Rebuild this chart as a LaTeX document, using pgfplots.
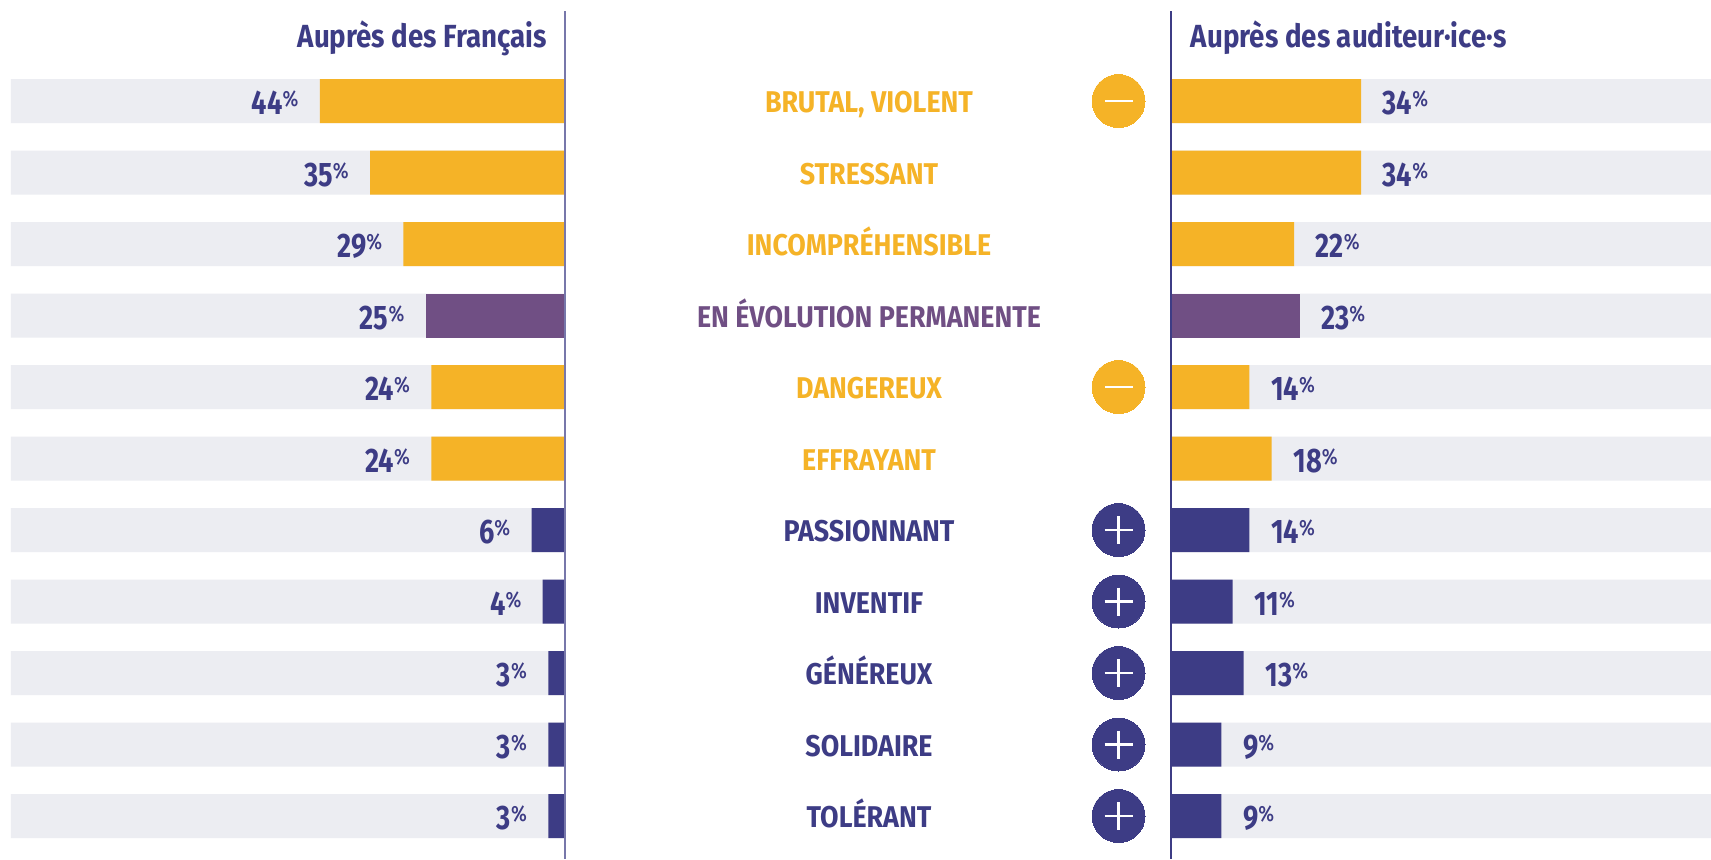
\documentclass[border=0pt]{standalone}
\usepackage{pgfplots}
\pgfplotsset{compat=1.18}
\usepackage{fontspec}
\setmainfont{Fira Sans}[FakeStretch=0.82,UprightFont=* Medium,BoldFont=* Bold]
\newfontfamily\labfont{Fira Sans}[FakeStretch=0.895,UprightFont=* Bold]
\newfontfamily\titfont{Fira Sans}[FakeStretch=0.865,UprightFont=* Bold]
\newfontfamily\numfont{Fira Sans}[FakeStretch=0.8,UprightFont=* Bold]
\newfontfamily\pctfont{Fira Sans}[FakeStretch=0.85,UprightFont=* Medium]
\definecolor{gris}{HTML}{ECEDF2}
\definecolor{jaune}{HTML}{F5B327}
\definecolor{violet}{HTML}{704F84}
\definecolor{bleu}{HTML}{3D3C85}
\newcommand{\pct}{\raisebox{4pt}{\fontsize{11}{11}\pctfont\%}}
\pgfplotsset{
  base/.style={
    hide axis, scale only axis, clip=false,
    y dir=reverse, ymin=-1.4126, ymax=10.6014,
    height=429.5pt,
    anchor=south west,
    /pgf/number format/assume math mode=true,
  },
  barre/.style={xbar, bar width=22pt, bar shift=0pt, draw=none, forget plot},
  val/.style={
    nodes near coords={\pgfmathprintnumber{\pgfplotspointmeta}\pct},
    point meta=x,
    nodes near coords style={text=bleu, font=\fontsize{17}{17}\numfont, inner sep=0pt, text height=11.5pt, text depth=0pt, yshift=-1pt},
  },
  lab/.style={only marks, mark=none, point meta=explicit symbolic,
    nodes near coords,
    nodes near coords align=center,
    nodes near coords style={anchor=center, inner sep=0pt, text=#1, text height=10.3pt, text depth=0pt, yshift=-0.8pt, font=\fontsize{15}{15}\labfont},
  },
}
\begin{document}
\begin{tikzpicture}
\path[use as bounding box, fill=white] (0,0) rectangle (855.5pt,429.5pt);

% left panel
\begin{axis}[base, at={(5.5pt,0pt)}, width=277pt, x dir=reverse, xmin=0, xmax=99.46]
\addplot[barre, fill=gris] coordinates {(99.46,0)(99.46,1)(99.46,2)(99.46,3)(99.46,4)(99.46,5)(99.46,6)(99.46,7)(99.46,8)(99.46,9)(99.46,10)};
\addplot[barre, val, fill=jaune, every node near coord/.append style={anchor=east,xshift=-10.5pt}] coordinates {(44,0)(35,1)(29,2)(24,4)(24,5)};
\addplot[barre, val, fill=violet, every node near coord/.append style={anchor=east,xshift=-10.5pt}] coordinates {(25,3)};
\addplot[barre, val, fill=bleu, every node near coord/.append style={anchor=east,xshift=-10.5pt}] coordinates {(6,6)(4,7)(3,8)(3,9)(3,10)};
\addplot[bleu!70!white, line width=0.75pt, forget plot] coordinates {(0,-1.2587)(0,10.6014)};
\node[anchor=east, inner sep=0pt, text=bleu, text height=11pt, text depth=0pt, font=\fontsize{16}{16}\titfont] at (axis cs:3.2,-0.90) {Auprès des Français};
\end{axis}

% centre labels and icons, x in reference pixels
\begin{axis}[base, at={(0pt,0pt)}, width=855.5pt, xmin=0, xmax=1711]
\addplot[lab=jaune] coordinates {(869,0) [{BRUTAL, VIOLENT}] (869,1) [STRESSANT] (869,2) [INCOMPRÉHENSIBLE] (869,4) [DANGEREUX] (869,5) [EFFRAYANT]};
\addplot[lab=violet] coordinates {(869,3) [EN ÉVOLUTION PERMANENTE]};
\addplot[lab=bleu] coordinates {(869,6) [PASSIONNANT] (869,7) [INVENTIF] (869,8) [GÉNÉREUX] (869,9) [SOLIDAIRE] (869,10) [TOLÉRANT]};
\addplot[only marks, mark=*, mark size=13.25pt, mark options={fill=jaune, draw=jaune, line width=0pt}] coordinates {(1118.5,0)(1118.5,4)};
\addplot[only marks, mark=*, mark size=13.25pt, mark options={fill=bleu, draw=bleu, line width=0pt}] coordinates {(1118.5,6)(1118.5,7)(1118.5,8)(1118.5,9)(1118.5,10)};
\addplot[only marks, mark=-, mark size=7pt, mark options={draw=white, line width=1.1pt}] coordinates {(1118.5,0)(1118.5,4)};
\addplot[only marks, mark=+, mark size=7pt, mark options={draw=white, line width=1.1pt}] coordinates {(1118.5,6)(1118.5,7)(1118.5,8)(1118.5,9)(1118.5,10)};
\end{axis}

% right panel
\begin{axis}[base, at={(585.5pt,0pt)}, width=270pt, xmin=0, xmax=96.6]
\addplot[barre, fill=gris] coordinates {(96.6,0)(96.6,1)(96.6,2)(96.6,3)(96.6,4)(96.6,5)(96.6,6)(96.6,7)(96.6,8)(96.6,9)(96.6,10)};
\addplot[barre, val, fill=jaune, every node near coord/.append style={anchor=west,xshift=10.7pt}] coordinates {(34,0)(34,1)(22,2)(14,4)(18,5)};
\addplot[barre, val, fill=violet, every node near coord/.append style={anchor=west,xshift=10.7pt}] coordinates {(23,3)};
\addplot[barre, val, fill=bleu, every node near coord/.append style={anchor=west,xshift=10.7pt}] coordinates {(14,6)(11,7)(13,8)(9,9)(9,10)};
\addplot[bleu, line width=0.75pt, forget plot] coordinates {(0,-1.2587)(0,10.6014)};
\node[anchor=west, inner sep=0pt, text=bleu, text height=11pt, text depth=0pt, font=\fontsize{16}{16}\titfont] at (axis cs:3.5,-0.90) {Auprès des auditeur·ice·s};
\end{axis}
\end{tikzpicture}
\end{document}
